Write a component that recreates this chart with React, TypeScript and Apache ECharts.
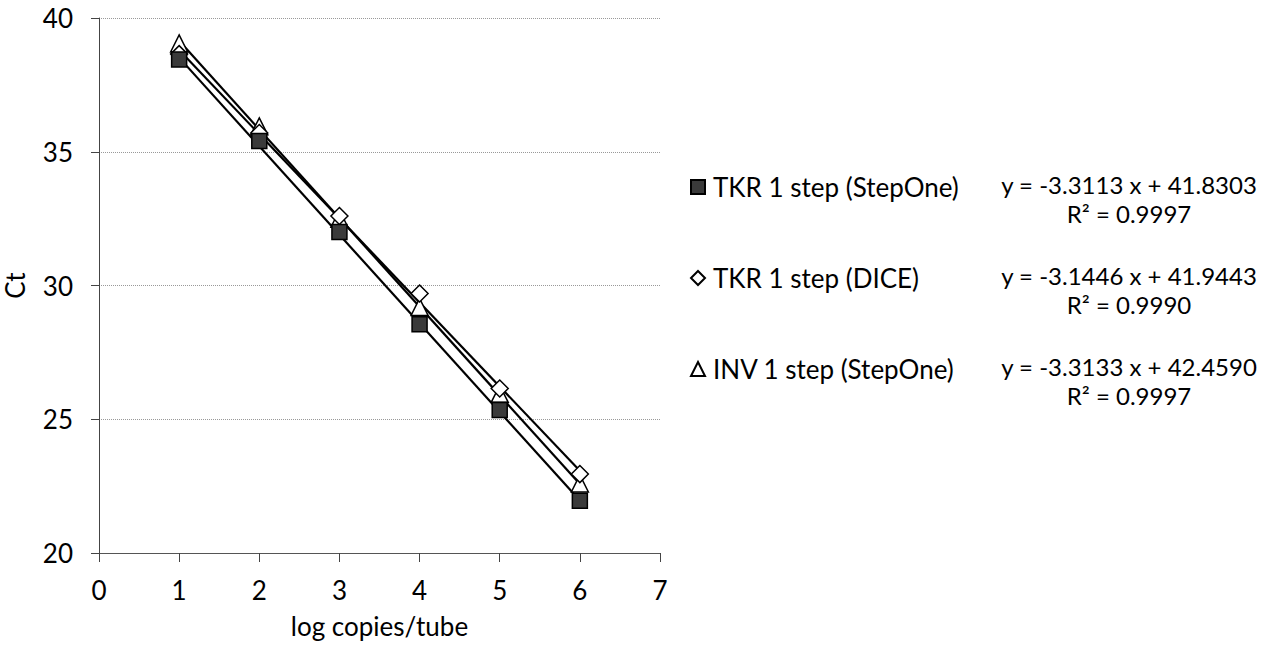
import React, { useEffect, useRef } from "react";
import * as echarts from "echarts";

const xValues = [1, 2, 3, 4, 5, 6];
const tkrStepOne = [38.45, 35.4, 32.0, 28.55, 25.35, 21.95];
const tkrDice = [38.65, 35.7, 32.6, 29.7, 26.15, 22.95];
const invStepOne = [39.05, 35.95, 32.5, 29.2, 25.95, 22.6];

const seriesNames = ["TKR 1 step (StepOne)", "TKR 1 step (DICE)", "INV 1 step (StepOne)"];
const slopes = [-3.3113, -3.1446, -3.3133];
const intercepts = [41.8303, 41.9443, 42.459];
const r2 = ["0.9997", "0.9990", "0.9997"];

const FONT = "Lato, 'Open Sans', sans-serif";

export default function App() {
  const ref = useRef<HTMLDivElement>(null);
  useEffect(() => {
    if (!ref.current) return;
    const chart = echarts.init(ref.current, undefined, { renderer: "svg" });
    const dataSets = [tkrStepOne, tkrDice, invStepOne];
    const symbols = ["rect", "diamond", "triangle"];
    const sizes = [15, 17, 17];
    const fills = ["#3a3a3a", "#ffffff", "#ffffff"];

    const scatterSeries = dataSets.map((d, i) => ({
      name: seriesNames[i],
      type: "scatter",
      symbol: symbols[i],
      symbolSize: sizes[i],
      z: 5 - i,
      itemStyle: { color: fills[i], borderColor: "#000", borderWidth: 1.5, opacity: 1 },
      data: d.map((v, j) => [xValues[j], v]),
    }));
    const x0 = xValues[0];
    const x1 = xValues[xValues.length - 1];
    const trendSeries = slopes.map((s, i) => ({
      name: seriesNames[i] + " trend",
      type: "line",
      symbol: "none",
      z: 2,
      lineStyle: { color: "#000", width: 2.2 },
      data: [
        [x0, s * x0 + intercepts[i]],
        [x1, s * x1 + intercepts[i]],
      ],
    }));

    const eqTexts: any[] = [];
    slopes.forEach((s, i) => {
      eqTexts.push({
        type: "text",
        x: 1129,
        y: 184 + i * 91,
        style: {
          text: `y = ${s.toFixed(4)} x + ${intercepts[i].toFixed(4)}`,
          fontFamily: FONT,
          fontSize: 24,
          lineHeight: 24,
          align: "center",
          verticalAlign: "middle",
          fill: "#000",
        },
      });
      eqTexts.push({
        type: "text",
        x: 1129,
        y: 213 + i * 91,
        style: {
          text: `R² = ${r2[i]}`,
          fontFamily: FONT,
          fontSize: 24,
          lineHeight: 24,
          align: "center",
          verticalAlign: "middle",
          fill: "#000",
        },
      });
    });

    chart.setOption({
      animation: false,
      backgroundColor: "#fff",
      grid: { left: 99, right: 624, top: 18, bottom: 100 },
      xAxis: {
        type: "value",
        min: 0,
        max: 7,
        interval: 1,
        name: "log copies/tube",
        nameLocation: "middle",
        nameGap: 60,
        nameTextStyle: { fontFamily: FONT, fontSize: 26, color: "#000" },
        axisLine: { lineStyle: { color: "#555", width: 1 } },
        axisTick: { show: true, length: 9, lineStyle: { color: "#444" } },
        axisLabel: { fontFamily: FONT, fontSize: 26, color: "#000", margin: 24 },
        splitLine: { show: false },
      },
      yAxis: {
        type: "value",
        min: 20,
        max: 40,
        interval: 5,
        name: "Ct",
        nameLocation: "middle",
        nameGap: 71,
        nameTextStyle: { fontFamily: FONT, fontSize: 26, color: "#000" },
        axisLine: { show: true, lineStyle: { color: "#444", width: 1 } },
        axisTick: { show: true, length: 8, lineStyle: { color: "#444" } },
        axisLabel: { fontFamily: FONT, fontSize: 26, color: "#000", margin: 26 },
        splitLine: { show: true, lineStyle: { color: "#999", type: "dotted", width: 1 } },
      },
      legend: {
        orient: "vertical",
        left: 690,
        top: 174,
        padding: 0,
        itemGap: 65,
        itemWidth: 14,
        itemHeight: 14,
        data: seriesNames,
        textStyle: { fontFamily: FONT, fontSize: 26, color: "#000", lineHeight: 26, padding: [0, 0, 0, 3] },
      },
      graphic: eqTexts,
      series: [...trendSeries, ...scatterSeries],
    });
    return () => chart.dispose();
  }, []);
  return <div ref={ref} style={{ position: "fixed", left: 0, top: 0, width: 1284, height: 653 }} />;
}
